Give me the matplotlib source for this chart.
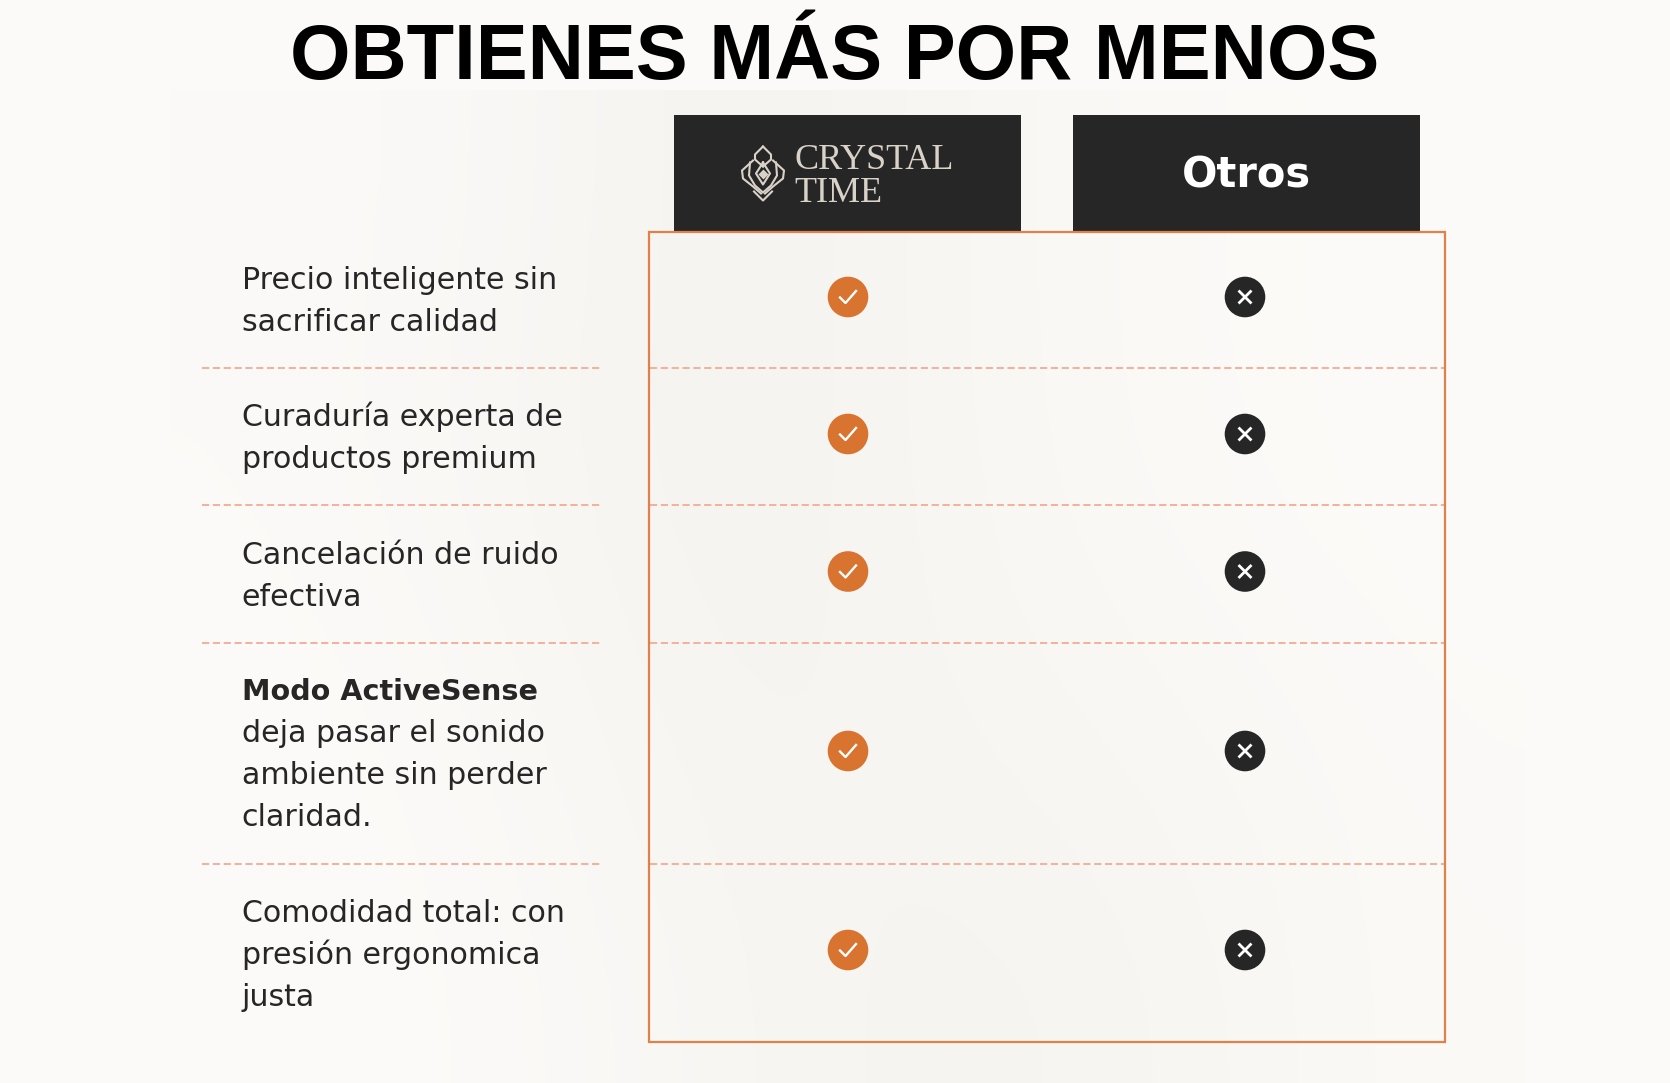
"""Tabla comparativa Crystal Time vs Otros."""
import numpy as np
import matplotlib
matplotlib.use("Agg")
import matplotlib.pyplot as plt
from matplotlib.patches import Circle, Rectangle

TITLE = "OBTIENES MÁS POR MENOS"
BRAND_LINES = ["CRYSTAL", "TIME"]
OTHER_LABEL = "Otros"

# Líneas de texto de cada fila
row_lines = [
    ["Precio inteligente sin", "sacrificar calidad"],
    ["Curaduría experta de", "productos premium"],
    ["Cancelación de ruido", "efectiva"],
    ["Modo ActiveSense", "deja pasar el sonido", "ambiente sin perder", "claridad."],
    ["Comodidad total: con", "presión ergonomica", "justa"],
]
bold_lines = ["Modo ActiveSense"]
crystal_has = [True, True, True, True, True]
others_has = [False, False, False, False, False]

# Layout en pixeles de la imagen
W, H = 1670, 1083
first_baselines = [289, 426, 563.5, 700.5, 922]
icon_y = [297, 434, 571.5, 751, 950]
separators = [367.5, 505, 643, 864]
LINE_STEP = 42
CRYSTAL_X, OTHERS_X = 848, 1245

DARK = "#262626"
ORANGE = "#d97330"
FRAME = "#e2804a"
DASH = "#f2ab92"
LOGO = "#d9d2c8"

fig = plt.figure(figsize=(W / 100, H / 100), dpi=100, facecolor="#fbfaf8")
ax = fig.add_axes([0, 0, 1, 1])
ax.set_xlim(0, W)
ax.set_ylim(H, 0)
ax.axis("off")

# Fondo: panel con gradiente muy suave
panel = np.array([
    [[251, 250, 248], [250, 248, 246], [245, 243, 239], [249, 247, 244], [251, 250, 247], [252, 251, 249]],
    [[251, 250, 248], [249, 247, 244], [245, 243, 239], [249, 247, 244], [251, 250, 247], [252, 251, 249]],
    [[252, 251, 249], [250, 249, 246], [246, 244, 240], [248, 246, 243], [249, 248, 245], [251, 250, 248]],
    [[252, 251, 249], [251, 250, 248], [248, 246, 243], [246, 244, 240], [248, 246, 242], [251, 250, 247]],
], dtype=np.uint8)
ax.imshow(panel, extent=(170, 1525, H, 90), interpolation="bicubic", aspect="auto", zorder=0)
ax.set_xlim(0, W)
ax.set_ylim(H, 0)

ax.text(835, 79, TITLE, fontsize=56, fontweight="bold", family="Liberation Sans",
        color="black", ha="center", va="baseline")

# Encabezados
ax.add_patch(Rectangle((674, 115), 347, 116, fc=DARK, ec="none", zorder=2))
ax.add_patch(Rectangle((1072.5, 115), 347.5, 116, fc=DARK, ec="none", zorder=2))
ax.text(1246.5, 188, OTHER_LABEL, fontsize=30, fontweight="bold", family="DejaVu Sans",
        color="white", ha="center", va="baseline", zorder=3)
for label, base in zip(BRAND_LINES, [169, 201.5]):
    ax.text(794.5, base, label, fontsize=26, family="Liberation Serif", color=LOGO,
            ha="left", va="baseline", zorder=3)

# Logo
cx, cy = 763, 173.5
lw_logo = 1.5
logo_paths = [
    ([0, 7, 0, -7, 0], [-11, 0, 11, 0, -11]),
    ([0, 8, 8, 0], [-27, -19, -14, -7]),
    ([0, -8, -8, 0], [-27, -19, -14, -7]),
    ([-10, -21, -20, -10, -2], [-13, -3, 5, 13, 20]),
    ([10, 21, 20, 10, 2], [-13, -3, 5, 13, 20]),
    ([-13, -14, -8, 0, 8, 14, 13], [-11, 2, 12, 19, 12, 2, -11]),
    ([-9, 0, 9], [18, 27, 18]),
]
for xs, ys in logo_paths:
    ax.plot(cx + np.array(xs), cy + np.array(ys), color=LOGO, lw=lw_logo, zorder=3,
            solid_joinstyle="round")
ax.plot([cx], [cy], marker="D", ms=5, color=LOGO, mec="none", zorder=3)

# Marco y separadores
ax.add_patch(Rectangle((649, 231.5), 796, 810, fc="none", ec=FRAME, lw=1.6, zorder=4))
for y in separators:
    ax.plot([202, 600], [y, y], color=DASH, lw=1.3, dashes=(4, 2), zorder=1)
    ax.plot([650, 1444], [y, y], color=DASH, lw=1.3, dashes=(4, 2), zorder=1)

# Textos de cada fila
for lines, base in zip(row_lines, first_baselines):
    for i, line in enumerate(lines):
        is_bold = line in bold_lines
        ax.text(241.5, base + i * LINE_STEP, line, fontsize=20.6 if is_bold else 21.6,
                family="DejaVu Sans", fontweight="bold" if is_bold else "normal",
                color=DARK, ha="left", va="baseline")


def draw_icon(x, y, ok):
    ax.add_patch(Circle((x, y), 20.3, fc=ORANGE if ok else DARK, ec="none", zorder=3))
    if ok:
        ax.plot([x - 8, x - 2.5, x + 8], [y + 0.5, y + 6, y - 6], color="white", lw=1.7, zorder=4)
    else:
        ax.plot([x - 5.5, x + 5.5], [y - 5.5, y + 5.5], color="white", lw=2, zorder=4)
        ax.plot([x - 5.5, x + 5.5], [y + 5.5, y - 5.5], color="white", lw=2, zorder=4)


for y, a, b in zip(icon_y, crystal_has, others_has):
    draw_icon(CRYSTAL_X, y, a)
    draw_icon(OTHERS_X, y, b)

fig.savefig("out.png", dpi=100, facecolor=fig.get_facecolor())
